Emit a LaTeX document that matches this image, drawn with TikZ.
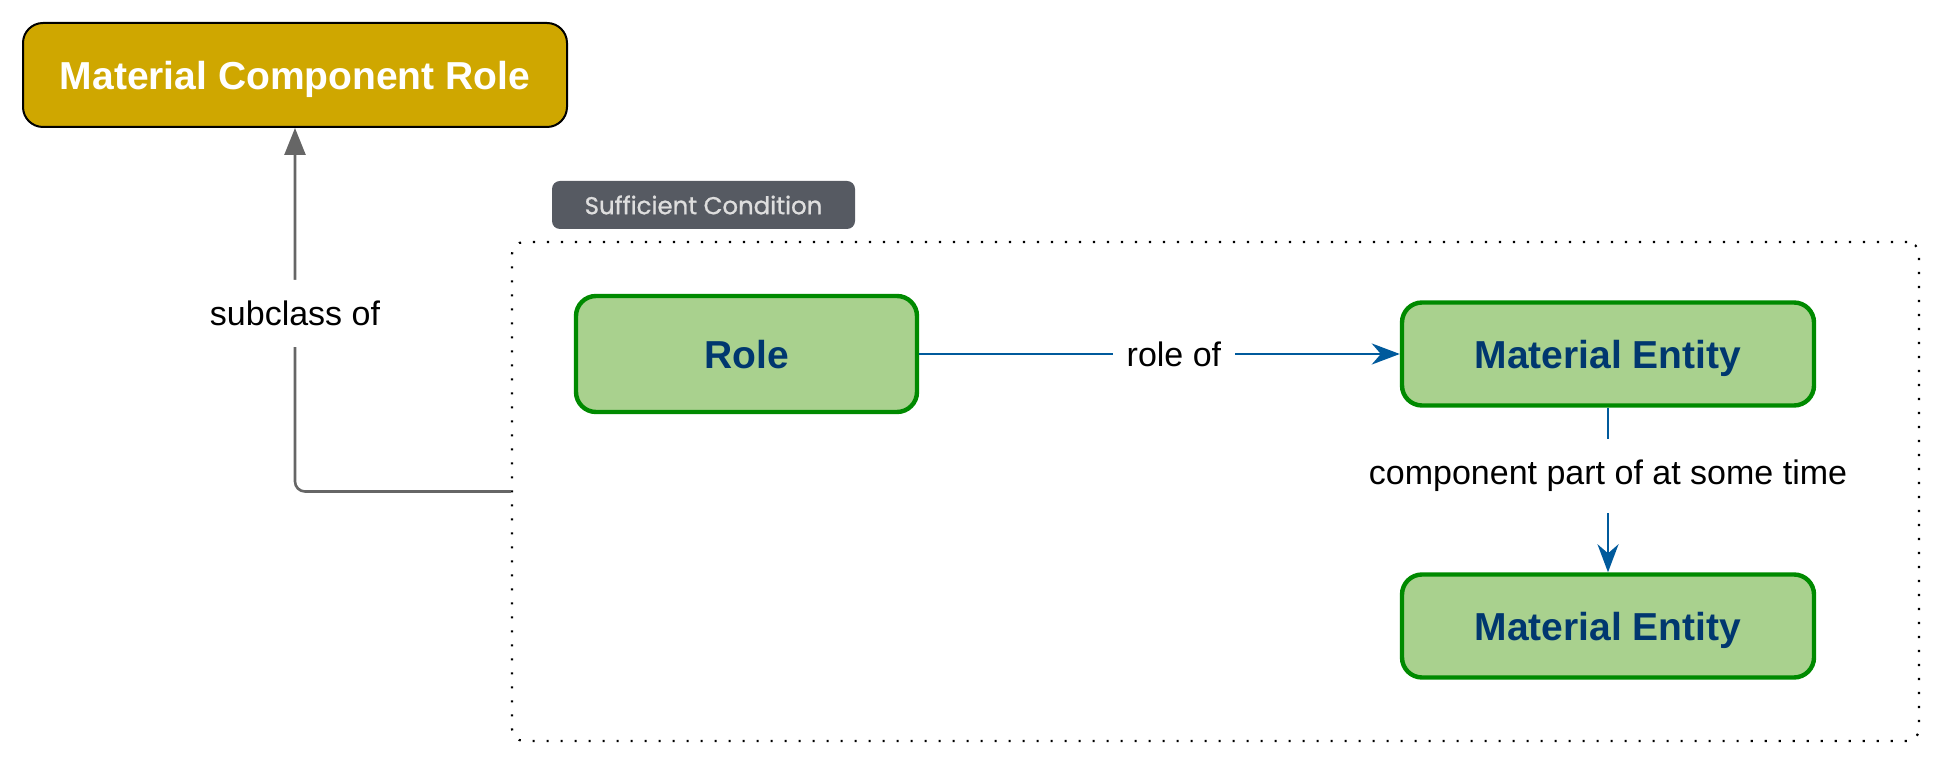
\documentclass[tikz,border=0pt]{standalone}
\usepackage{fontspec}
\setmainfont{Liberation Sans}
\newfontfamily\tagfont[FakeBold=1]{Poppins}
\usetikzlibrary{arrows.meta}

\definecolor{goldfill}{HTML}{CFA700}
\definecolor{leaffill}{HTML}{A9D18E}
\definecolor{leafdraw}{HTML}{008A00}
\definecolor{inktext}{HTML}{00376F}
\definecolor{relblue}{HTML}{005A9C}
\definecolor{taggray}{HTML}{565A62}

\tikzset{
  topclass/.style={draw=black,line width=1pt,fill=goldfill,rounded corners=10pt,
    text=white,font=\fontsize{19.5}{23}\selectfont\bfseries,text depth=0pt,
    minimum width=272pt,minimum height=52pt},
  leafclass/.style={draw=leafdraw,line width=2.2pt,fill=leaffill,rounded corners=10pt,
    text=inktext,font=\fontsize{19.5}{23}\selectfont\bfseries,text depth=0pt},
  condbox/.style={draw=black,line width=1.1pt,dash pattern=on 1.1pt off 5.9pt,
    rounded corners=6pt,minimum width=703.5pt,minimum height=249.5pt},
  condtag/.style={fill=taggray,rounded corners=4pt,text=black!13,
    font=\tagfont\fontsize{12.2}{14}\selectfont,minimum width=151.5pt,minimum height=24pt},
  rellabel/.style={fill=white,text=black,inner xsep=7pt,inner ysep=10.5pt,
    font=\fontsize{17}{20}\selectfont},
  relarrow/.style={draw=relblue,line width=1.4pt,-{Stealth[length=14pt,width=10.5pt,inset=4.5pt]}},
  isaarrow/.style={draw=black!60,line width=1.3pt,rounded corners=5pt,
    -{Triangle[length=13.5pt,width=10.5pt]}}
}

\begin{document}
\begin{tikzpicture}[x=0.5pt,y=-0.5pt]
	\useasboundingbox (0,0) rectangle (1944,763);

	% outer class
	\node[topclass] (mcr) at (295,75) {Material Component Role};

	% sufficient condition group
	\node[condbox] (cond) at (1215.5,491.5) {};
	\node[condtag] (tag) at (703.5,205) {Sufficient Condition};

	\node[leafclass,minimum width=170.5pt,minimum height=58pt] (role) at (746.5,354) {Role};
	\node[leafclass,minimum width=206pt,minimum height=51.5pt] (ment) at (1608,354) {Material Entity};
	\node[leafclass,minimum width=206pt,minimum height=51.5pt] (mentb) at (1608,626) {Material Entity};

	% relations
	\draw[relarrow] (role) -- (ment) node[pos=0.53,rellabel] {role of};
	\draw[relarrow] (ment) -- (mentb) node[pos=0.415,rellabel] {component part of at some time};

	\draw[isaarrow] (cond.west) -| (mcr.south) node[pos=0.745,rellabel] {subclass of};
\end{tikzpicture}
\end{document}
